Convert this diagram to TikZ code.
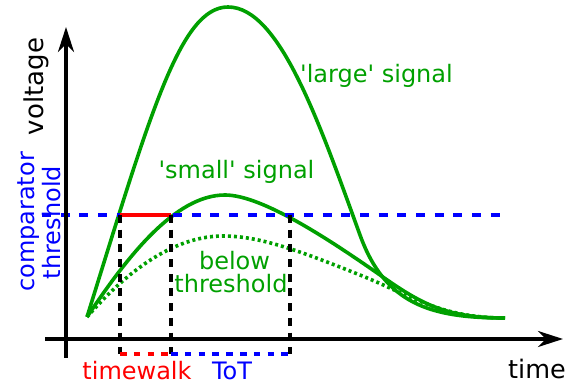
\documentclass[tikz,border=0pt]{standalone}
\usepackage{fontspec}
\setmainfont{DejaVu Sans}[Ligatures=TeXOff]
\usetikzlibrary{arrows.meta}
\definecolor{sgreen}{RGB}{0,160,0}
\definecolor{sblue}{RGB}{0,0,255}
\definecolor{sred}{RGB}{255,0,0}
\begin{document}
\begin{tikzpicture}[x=1pt,y=1pt,
  axis/.style={line width=3.4pt,-{Stealth[length=25pt,width=16pt,inset=8pt]}},
  sig/.style={sgreen,line width=3.6pt},
  sigdot/.style={sgreen,line width=3.6pt,dash pattern=on 3pt off 3pt},
  thr/.style={sblue,line width=3.4pt,dash pattern=on 9pt off 9.7pt},
  vguide/.style={black,line width=3.4pt,dash pattern=on 8pt off 6.7pt},
  bguide/.style={line width=3.4pt,dash pattern=on 6.5pt off 7.3pt},
  lbl/.style={font=\fontsize{24}{28}\selectfont,inner sep=0pt,anchor=base}]
\useasboundingbox (0,0) rectangle (568,385);
% key points
\coordinate (o) at (87,68);
\coordinate (tl) at (42,170);
\coordinate (tr) at (502,170);
\coordinate (a1) at (120,170);
\coordinate (a2) at (171,170);
\coordinate (a3) at (290,170);
\coordinate (b1) at (120,31);
\coordinate (b2) at (171,31);
\coordinate (b3) at (290,31);
\coordinate (ya) at (66,27);
\coordinate (yb) at (66,358);
\coordinate (xa) at (45,46);
\coordinate (xb) at (563,46);
% signals
\draw[sig] (o) .. controls (150,270) and (180,378) .. (228,378)
  .. controls (280,378) and (320,260) .. (360,150)
  .. controls (385,81) and (430,67) .. (505,67);
\draw[sig] (o) .. controls (127,128) and (175,190) .. (225,190)
  .. controls (262,190) and (330,145) .. (380,110)
  .. controls (420,82) and (445,67) .. (505,67);
\draw[sigdot] (o) .. controls (115,100) and (165,149) .. (223,149)
  .. controls (260,149) and (300,134) .. (360,110)
  .. controls (410,90) and (440,67) .. (505,67);
% threshold and guides
\draw[thr] (tl) -- (tr);
\draw[sred,line width=3.4pt] (a1) -- (a2);
\draw[vguide] (a1) -- (b1);
\draw[vguide] (a2) -- (b2);
\draw[vguide] (a3) -- (b3);
\draw[bguide,sred] (b1) -- (b2);
\draw[bguide,sblue] (b2) -- (b3);
% axes
\draw[axis] (ya) -- (yb);
\draw[axis] (xa) -- (xb);
% labels
\node[lbl,text=black,font=\fontsize{25.5}{29}\selectfont] (time) at (537,6) {time};
\node[lbl,text=sred] (tw) at (137,5) {timewalk};
\node[lbl,text=sblue] (tot) at (232,5) {ToT};
\node[lbl,text=sgreen] (large) at (376.5,302) {'large' signal};
\node[lbl,text=sgreen] (small) at (236.5,206) {'small' signal};
\node[lbl,text=sgreen] (below) at (234.5,115) {below};
\node[lbl,text=sgreen] (thrtxt) at (231,92) {threshold};
\node[lbl,text=black,rotate=90,font=\fontsize{26}{30}\selectfont] (volt) at (43,298.5) {voltage};
\node[lbl,text=sblue,rotate=90] (comp) at (34,163) {comparator};
\node[lbl,text=sblue,rotate=90] (thrv) at (60,162.5) {threshold};
\end{tikzpicture}
\end{document}
